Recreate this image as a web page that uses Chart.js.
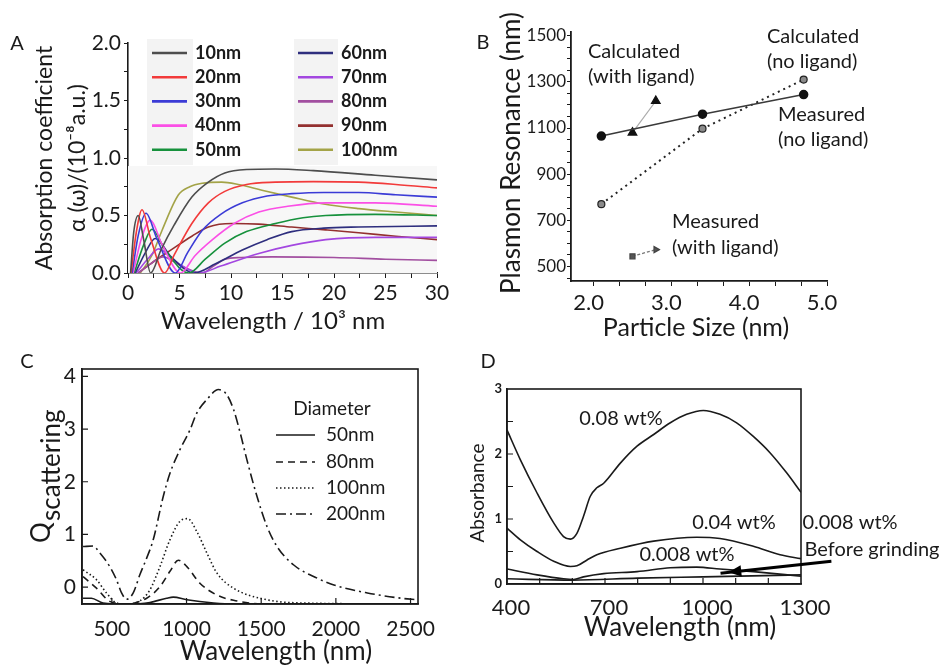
<!DOCTYPE html>
<html>
<head>
<meta charset="utf-8">
<script src="https://cdn.jsdelivr.net/npm/chart.js@4.4.0/dist/chart.umd.min.js"></script>
<style>
  body { margin: 0; background: #fff; width: 941px; height: 668px; position: relative; overflow: hidden; }
  canvas { position: absolute; }
</style>
</head>
<body>
<canvas id="cA" width="470" height="340" style="left:0;top:0"></canvas>
<canvas id="cB" width="471" height="340" style="left:470px;top:0"></canvas>
<canvas id="cC" width="470" height="328" style="left:0;top:340px"></canvas>
<canvas id="cD" width="471" height="328" style="left:470px;top:340px"></canvas>
<script>
// ---------- panel A : absorption coefficient, x in 10^3 nm ----------
const sizesA = ['10nm', '20nm', '30nm', '40nm', '50nm', '60nm', '70nm', '80nm', '90nm', '100nm'];
const a10 = [[0.25,0],[0.55,0.35],[1.0,0.5],[1.5,0.3],[2.2,0],[3.2,0.2],[4.5,0.42],[6.2,0.66],[7.8,0.79],[9.4,0.87],[11.5,0.9],[14.3,0.905],[18,0.89],[24,0.85],[30,0.81]];
const a20 = [[0.3,0],[0.8,0.35],[1.36,0.55],[2.2,0.3],[3.55,0],[4.5,0.16],[6.2,0.43],[7.8,0.61],[9.4,0.71],[11.5,0.77],[14.3,0.79],[18,0.795],[22.4,0.79],[26,0.77],[30,0.74]];
const a30 = [[0.4,0],[1.0,0.33],[1.75,0.52],[2.8,0.3],[4.6,0],[5.8,0.18],[7.2,0.37],[9,0.51],[11.1,0.61],[13.5,0.67],[15.9,0.69],[19,0.7],[22.4,0.7],[26,0.68],[30,0.66]];
const a40 = [[0.5,0],[1.3,0.3],[2.17,0.46],[3.3,0.25],[5.1,0],[6.5,0.15],[8.2,0.29],[10.3,0.43],[12.7,0.53],[15.5,0.58],[19.2,0.61],[24,0.61],[30,0.58]];
const a50 = [[0.6,0],[1.5,0.24],[2.33,0.38],[3.6,0.2],[5.9,0],[7.5,0.12],[9.4,0.26],[11.5,0.36],[14.3,0.43],[17,0.48],[19.2,0.5],[24,0.51],[30,0.5]];
const a60 = [[0.7,0],[1.7,0.18],[2.65,0.3],[4.2,0.14],[6.4,0],[8.5,0.08],[11.1,0.2],[13.5,0.29],[15.9,0.36],[19,0.39],[22.4,0.4],[30,0.41]];
const a70 = [[0.8,0],[2.0,0.13],[2.97,0.21],[4.6,0.1],[6.9,0],[9,0.06],[12.7,0.17],[15.9,0.24],[19.2,0.29],[24,0.31],[30,0.31]];
const a80 = [[1.0,0],[2.2,0.08],[3.4,0.14],[5,0.07],[7.2,0],[8.3,0.06],[9.4,0.12],[11,0.135],[14,0.14],[20,0.135],[25,0.12],[30,0.11]];
const a90 = [[1.0,0],[2.5,0.1],[4,0.19],[6.2,0.32],[7.8,0.4],[10.1,0.43],[12.7,0.425],[15.9,0.4],[19.2,0.375],[22.4,0.35],[26,0.32],[30,0.29]];
const a100 = [[1.2,0],[2.3,0.15],[3.3,0.37],[4.9,0.68],[6,0.75],[7.2,0.78],[9.1,0.79],[10.7,0.77],[13,0.72],[15.9,0.66],[19,0.6],[22.4,0.56],[26,0.53],[30,0.5]];
const seriesA = [a10, a20, a30, a40, a50, a60, a70, a80, a90, a100];
const colorsA = ['#4d4d4d', '#f23a3a', '#3b3bd6', '#fb4fe6', '#16913c', '#2e2e7e', '#a347e0', '#a24fa0', '#93302f', '#a3a347'];

// ---------- panel B : plasmon resonance vs particle size ----------
const sizeB = [2.1, 3.4, 4.7];
const measNoLigand = [1065, 1160, 1245];
const calcNoLigand = [770, 1097, 1310];
const sizeLigB = [2.5, 2.8];
const calcWithLigand = [1080, 1217];
const measWithLigand = [544, 573];

// ---------- panel C : Q scattering vs wavelength ----------
const diametersC = ['50nm', '80nm', '100nm', '200nm'];
const c50 = [[307,-0.21],[363,-0.21],[441,-0.3],[598,-0.32],[755,-0.29],[867,-0.21],[911,-0.19],[1002,-0.24],[1181,-0.3],[1315,-0.32],[2547,-0.32]];
const c80 = [[307,0.2],[397,-0.02],[486,-0.27],[598,-0.32],[733,-0.21],[822,0.01],[889,0.3],[945,0.51],[1002,0.39],[1091,0.07],[1203,-0.15],[1315,-0.25],[1539,-0.32],[2547,-0.32]];
const c100 = [[307,0.33],[397,0.14],[464,-0.11],[531,-0.3],[598,-0.32],[688,-0.26],[755,-0.05],[822,0.39],[889,0.9],[956,1.25],[1008,1.3],[1068,1.06],[1136,0.65],[1203,0.27],[1315,-0.02],[1539,-0.24],[1763,-0.3],[2547,-0.32]];
const c200 = [[307,0.77],[374,0.78],[419,0.65],[486,0.39],[531,0.14],[565,-0.11],[598,-0.23],[643,-0.11],[688,0.24],[733,0.55],[777,0.9],[844,1.72],[889,2.16],[956,2.61],[1024,2.99],[1068,3.3],[1136,3.56],[1214,3.75],[1270,3.65],[1315,3.37],[1360,2.92],[1404,2.42],[1472,1.72],[1539,1.15],[1606,0.77],[1718,0.42],[1875,0.17],[1987,0.04],[2211,-0.11],[2435,-0.21],[2547,-0.24]];
const seriesC = [c50, c80, c100, c200];
const dashesC = [[], [7, 5], [1.5, 2.5], [10, 4, 2, 4]];

// ---------- panel D : absorbance vs wavelength ----------
const d008 = [[400,2.37],[441,1.91],[492,1.4],[543,0.94],[573,0.73],[594,0.69],[614,0.78],[634,1.04],[655,1.35],[675,1.48],[696,1.55],[747,1.86],[798,2.12],[849,2.3],[900,2.48],[950,2.61],[1001,2.67],[1052,2.61],[1103,2.48],[1154,2.27],[1205,2.02],[1256,1.71],[1300,1.41]];
const d004 = [[400,0.86],[441,0.68],[492,0.5],[543,0.35],[594,0.27],[614,0.28],[645,0.37],[675,0.45],[747,0.55],[849,0.66],[981,0.72],[1052,0.7],[1154,0.58],[1236,0.45],[1300,0.39]];
const d0008 = [[400,0.23],[492,0.14],[573,0.08],[604,0.07],[634,0.11],[696,0.16],[798,0.19],[900,0.25],[981,0.26],[1052,0.23],[1154,0.19],[1300,0.12]];
const dBefore = [[400,0.08],[600,0.06],[800,0.09],[1000,0.11],[1300,0.14]];

const F = 'Lato, "Open Sans", sans-serif';
const INK = '#1a1a1a';

const pts = arr => arr.map(p => ({ x: p[0], y: p[1] }));
const zip = (xs, ys) => xs.map((x, i) => ({ x: x, y: ys[i] }));

// draws free text (titles, panel letters, annotations)
function texts(items) {
  return {
    id: 'texts',
    afterDraw(chart) {
      const ctx = chart.ctx;
      items.forEach(t => {
        ctx.save();
        ctx.font = t.font;
        ctx.fillStyle = t.color || INK;
        ctx.textAlign = t.align || 'center';
        ctx.textBaseline = t.baseline || 'middle';
        ctx.translate(t.x, t.y);
        if (t.rot) ctx.rotate(t.rot);
        ctx.fillText(t.text, 0, 0);
        ctx.restore();
      });
    }
  };
}

// box around plot + ticks pointing inward
function frame(xTicks, yTicks, len) {
  return {
    id: 'frame',
    afterDraw(chart) {
      const { ctx, chartArea: a, scales } = chart;
      ctx.save();
      ctx.strokeStyle = INK;
      ctx.lineWidth = 1.6;
      ctx.strokeRect(a.left, a.top, a.right - a.left, a.bottom - a.top);
      ctx.lineWidth = 1.2;
      ctx.beginPath();
      xTicks.forEach(v => {
        const x = scales.x.getPixelForValue(v);
        ctx.moveTo(x, a.bottom); ctx.lineTo(x, a.bottom - len);
      });
      yTicks.forEach(v => {
        const y = scales.y.getPixelForValue(v);
        ctx.moveTo(a.left, y); ctx.lineTo(a.left + len, y);
      });
      ctx.stroke();
      ctx.restore();
    }
  };
}

const ticksFrom = list => s => { s.ticks = list.map(v => ({ value: v })); };
const range = (a, b, step) => { const r = []; for (let v = a; v <= b + 1e-9; v += step) r.push(+v.toFixed(4)); return r; };

function base(pad) {
  return {
    responsive: false,
    animation: false,
    devicePixelRatio: 1,
    layout: { padding: pad },
    plugins: { legend: { display: false }, tooltip: { enabled: false } },
    elements: { point: { radius: 0 } }
  };
}

// ================= A =================
const shadeA = {
  id: 'shadeA',
  beforeDatasetsDraw(chart) {
    const { ctx, chartArea: a, scales } = chart;
    ctx.save();
    ctx.fillStyle = '#f7f7f7';
    const yTop = scales.y.getPixelForValue(0.93);
    ctx.fillRect(a.left, yTop, a.right - a.left, a.bottom - yTop);
    ctx.fillStyle = '#f3f3f3';
    ctx.fillRect(147, 39, 46, 126);
    ctx.fillRect(294, 39, 44, 126);
    ctx.restore();
  }
};
const legendA = {
  id: 'legendA',
  afterDraw(chart) {
    const ctx = chart.ctx;
    ctx.save();
    chart.data.datasets.forEach((ds, i) => {
      const col = i < 5 ? 0 : 1;
      const row = i % 5;
      const x0 = col ? 298 : 152;
      const y = 53 + row * 24.2;
      ctx.strokeStyle = ds.borderColor;
      ctx.lineWidth = 2.6;
      ctx.beginPath(); ctx.moveTo(x0, y); ctx.lineTo(x0 + 35, y); ctx.stroke();
      ctx.fillStyle = INK;
      ctx.font = 'bold 18px ' + F;
      ctx.textAlign = 'left';
      ctx.textBaseline = 'middle';
      ctx.fillText(ds.label, x0 + 43, y);
    });
    ctx.restore();
  }
};

new Chart(document.getElementById('cA'), {
  type: 'scatter',
  data: {
    datasets: seriesA.map((s, i) => ({
      label: sizesA[i], data: pts(s), showLine: true,
      borderColor: colorsA[i], borderWidth: 1.6, cubicInterpolationMode: 'monotone'
    }))
  },
  options: Object.assign(base({ left: 0, top: 43, right: 33, bottom: 0 }), {
    scales: {
      x: {
        type: 'linear', min: 0, max: 30,
        afterFit: s => { s.height = 67; },
        afterBuildTicks: ticksFrom(range(0, 30, 2.5)),
        ticks: { autoSkip: false, maxRotation: 0, color: INK, font: { family: F, size: 21 }, padding: 3,
                 callback: v => (v % 5 === 0 ? String(v) : '') },
        grid: { drawOnChartArea: false, tickLength: 5, tickColor: INK },
        border: { color: INK, width: 1.6 }
      },
      y: {
        type: 'linear', min: 0, max: 2,
        afterFit: s => { s.width = 128; },
        afterBuildTicks: ticksFrom(range(0, 2, 0.25)),
        ticks: { autoSkip: false, color: INK, font: { family: F, size: 21 }, padding: 3,
                 callback: v => (Math.abs(v * 2 - Math.round(v * 2)) < 1e-6 ? v.toFixed(1) : '') },
        grid: { drawOnChartArea: false, tickLength: 4, tickColor: INK },
        border: { color: INK, width: 1.6 }
      }
    }
  }),
  plugins: [shadeA, legendA, texts([
    { text: 'A', x: 17, y: 44, font: '20px ' + F },
    { text: 'Absorption coefficient', x: 45, y: 158, rot: -Math.PI / 2, font: '23px ' + F },
    { text: 'α (ω)/(10⁻⁸a.u.)', x: 78, y: 158, rot: -Math.PI / 2, font: '23px ' + F },
    { text: 'Wavelength / 10³ nm', x: 273, y: 321, font: '24px ' + F }
  ])]
});

// ================= B =================
new Chart(document.getElementById('cB'), {
  type: 'scatter',
  data: {
    datasets: [
      { label: 'Measured (no ligand)', data: zip(sizeB, measNoLigand), showLine: true,
        borderColor: '#3a3a3a', borderWidth: 1.5, pointRadius: 4, pointBackgroundColor: '#111', pointBorderColor: '#111' },
      { label: 'Calculated (no ligand)', data: zip(sizeB, calcNoLigand), showLine: true,
        borderColor: '#222', borderWidth: 2, borderDash: [2, 4], pointRadius: 3.5,
        pointBackgroundColor: '#8a8a8a', pointBorderColor: '#222', pointBorderWidth: 1.2 },
      { label: 'Calculated (with ligand)', data: zip(sizeLigB, calcWithLigand), showLine: true,
        borderColor: '#aaa', borderWidth: 1.2, pointStyle: 'triangle', pointRadius: 5,
        pointBackgroundColor: '#111', pointBorderColor: '#111' },
      { label: 'Measured (with ligand)', data: zip(sizeLigB, measWithLigand), showLine: true,
        borderColor: '#777', borderWidth: 1.3, borderDash: [3, 2], pointStyle: ['rect', 'triangle'],
        rotation: [0, 90], pointRadius: 3.5, pointBackgroundColor: '#555', pointBorderColor: '#444' }
    ]
  },
  options: Object.assign(base({ left: 0, top: 32, right: 114, bottom: 0 }), {
    scales: {
      x: {
        type: 'linear', min: 1.71, max: 5.0,
        afterFit: s => { s.height = 59; },
        afterBuildTicks: ticksFrom(range(0, 9, 1).map(i => 2 + i / 3)),
        ticks: { autoSkip: false, maxRotation: 0, color: INK, font: { family: F, size: 22 }, padding: 4, labelOffset: -5,
                 callback: v => (Math.abs(v - Math.round(v)) < 1e-6 ? v.toFixed(1) : '') },
        grid: { drawOnChartArea: false, tickLength: 5, tickColor: INK },
        border: { color: INK, width: 1.8 }
      },
      y: {
        type: 'linear', min: 437, max: 1516,
        afterFit: s => { s.width = 101; },
        afterBuildTicks: ticksFrom(range(450, 1500, 50)),
        ticks: { autoSkip: false, color: INK, font: { family: F, size: 17 }, padding: 1,
                 callback: v => (v >= 500 && (v - 500) % 200 === 0 ? String(v) : '') },
        grid: { drawOnChartArea: false, tickLength: 4, tickColor: INK },
        border: { color: INK, width: 1.8 }
      }
    }
  }),
  plugins: [texts([
    { text: 'B', x: 13, y: 43, font: '20px ' + F },
    { text: 'Plasmon Resonance (nm)', x: 42, y: 153, rot: -Math.PI / 2, font: '26px ' + F },
    { text: 'Particle Size (nm)', x: 226, y: 328, font: '25px ' + F },
    { text: 'Calculated', x: 118, y: 52, align: 'left', font: '20px ' + F },
    { text: '(with ligand)', x: 118, y: 77, align: 'left', font: '20px ' + F },
    { text: 'Calculated', x: 297, y: 37, align: 'left', font: '20px ' + F },
    { text: '(no ligand)', x: 297, y: 62, align: 'left', font: '20px ' + F },
    { text: 'Measured', x: 308, y: 115, align: 'left', font: '20px ' + F },
    { text: '(no ligand)', x: 308, y: 140, align: 'left', font: '20px ' + F },
    { text: 'Measured', x: 202, y: 222, align: 'left', font: '20px ' + F },
    { text: '(with ligand)', x: 202, y: 248, align: 'left', font: '20px ' + F }
  ])]
});

// ================= C =================
const legendC = {
  id: 'legendC',
  afterDraw(chart) {
    const ctx = chart.ctx;
    ctx.save();
    chart.data.datasets.forEach((ds, i) => {
      const y = [95, 122, 148, 174][i];
      ctx.strokeStyle = INK;
      ctx.lineWidth = 1.6;
      ctx.setLineDash(ds.borderDash);
      ctx.beginPath(); ctx.moveTo(276, y); ctx.lineTo(315, y); ctx.stroke();
      ctx.setLineDash([]);
      ctx.fillStyle = INK;
      ctx.font = '19px ' + F;
      ctx.textAlign = 'left';
      ctx.textBaseline = 'middle';
      ctx.fillText(ds.label, 326, y);
    });
    ctx.font = '19px ' + F;
    ctx.textAlign = 'center';
    ctx.fillText('Diameter', 332, 69);
    ctx.restore();
  }
};

new Chart(document.getElementById('cC'), {
  type: 'scatter',
  data: {
    datasets: seriesC.map((s, i) => ({
      label: diametersC[i], data: pts(s), showLine: true,
      borderColor: INK, borderWidth: 1.6, borderDash: dashesC[i], cubicInterpolationMode: 'monotone'
    }))
  },
  options: Object.assign(base({ left: 0, top: 29, right: 52, bottom: 0 }), {
    scales: {
      x: {
        type: 'linear', min: 300, max: 2550,
        afterFit: s => { s.height = 64; },
        afterBuildTicks: ticksFrom([500, 1000, 1500, 2000, 2500]),
        ticks: { autoSkip: false, maxRotation: 0, color: INK, font: { family: F, size: 21 }, padding: 13,
                 callback: v => String(v) },
        grid: { display: false, drawTicks: false },
        border: { color: INK, width: 1.6 }
      },
      y: {
        type: 'linear', min: -0.32, max: 4.14,
        afterFit: s => { s.width = 82; },
        afterBuildTicks: ticksFrom([0, 1, 2, 3, 4]),
        ticks: { autoSkip: false, color: INK, font: { family: F, size: 21 }, padding: 6,
                 callback: v => String(v) },
        grid: { display: false, drawTicks: false },
        border: { color: INK, width: 1.6 }
      }
    }
  }),
  plugins: [frame([500, 1000, 1500, 2000, 2500], [0, 1, 2, 3, 4], 6), legendC, texts([
    { text: 'C', x: 27, y: 22, font: '20px ' + F },
    { text: 'Q', x: 50, y: 203, rot: -Math.PI / 2, align: 'left', baseline: 'alphabetic', font: '26px ' + F },
    { text: 'scattering', x: 60, y: 181, rot: -Math.PI / 2, align: 'left', baseline: 'alphabetic', font: '26px ' + F },
    { text: 'Wavelength (nm)', x: 276, y: 312, font: '26px ' + F }
  ])]
});

// ================= D =================
const arrowD = {
  id: 'arrowD',
  afterDraw(chart) {
    const { ctx, scales } = chart;
    const x0 = scales.x.getPixelForValue(1393), y0 = scales.y.getPixelForValue(0.35);
    const x1 = scales.x.getPixelForValue(1078), y1 = scales.y.getPixelForValue(0.18);
    const ang = Math.atan2(y1 - y0, x1 - x0);
    ctx.save();
    ctx.strokeStyle = '#000';
    ctx.fillStyle = '#000';
    ctx.lineWidth = 3;
    ctx.beginPath(); ctx.moveTo(x0, y0); ctx.lineTo(x1 + 8 * Math.cos(ang), y1 + 8 * Math.sin(ang)); ctx.stroke();
    ctx.beginPath();
    ctx.moveTo(x1, y1);
    ctx.lineTo(x1 - 14 * Math.cos(ang - 0.42), y1 - 14 * Math.sin(ang - 0.42));
    ctx.lineTo(x1 - 14 * Math.cos(ang + 0.42), y1 - 14 * Math.sin(ang + 0.42));
    ctx.closePath(); ctx.fill();
    ctx.restore();
  }
};

new Chart(document.getElementById('cD'), {
  type: 'scatter',
  data: {
    datasets: [
      { label: '0.08 wt%', data: pts(d008) },
      { label: '0.04 wt%', data: pts(d004) },
      { label: '0.008 wt%', data: pts(d0008) },
      { label: 'Before grinding', data: pts(dBefore) }
    ].map(ds => Object.assign(ds, { showLine: true, borderColor: INK, borderWidth: 1.6, cubicInterpolationMode: 'monotone' }))
  },
  options: Object.assign(base({ left: 0, top: 49, right: 140, bottom: 0 }), {
    scales: {
      x: {
        type: 'linear', min: 400, max: 1300,
        afterFit: s => { s.height = 84; },
        afterBuildTicks: ticksFrom(range(400, 1300, 100)),
        ticks: { autoSkip: false, maxRotation: 0, color: INK, font: { family: F, size: 22 }, padding: 11, labelOffset: 4,
                 callback: v => ((v - 400) % 300 === 0 ? String(v) : '') },
        grid: { display: false, drawTicks: false },
        border: { color: INK, width: 1.6 }
      },
      y: {
        type: 'linear', min: 0, max: 3,
        afterFit: s => { s.width = 37; },
        afterBuildTicks: ticksFrom(range(0, 3, 0.5)),
        ticks: { autoSkip: false, color: INK, font: { family: F, size: 13, weight: 'bold' }, padding: 5,
                 callback: v => (v % 1 === 0 ? String(v) : '') },
        grid: { display: false, drawTicks: false },
        border: { color: INK, width: 1.6 }
      }
    }
  }),
  plugins: [frame(range(500, 1200, 100), range(0.5, 2.5, 0.5), 6), arrowD, texts([
    { text: 'D', x: 18, y: 22, font: '20px ' + F },
    { text: 'Absorbance', x: 8, y: 153, rot: -Math.PI / 2, font: '19px ' + F },
    { text: 'Wavelength (nm)', x: 210, y: 288, font: '26px ' + F },
    { text: '0.08 wt%', x: 151, y: 79, font: '20px ' + F },
    { text: '0.04 wt%', x: 264, y: 183, font: '20px ' + F },
    { text: '0.008 wt%', x: 380, y: 183, font: '20px ' + F },
    { text: 'Before grinding', x: 402, y: 210, font: '20px ' + F },
    { text: '0.008 wt%', x: 217, y: 215, font: '20px ' + F }
  ])]
});
</script>
</body>
</html>
